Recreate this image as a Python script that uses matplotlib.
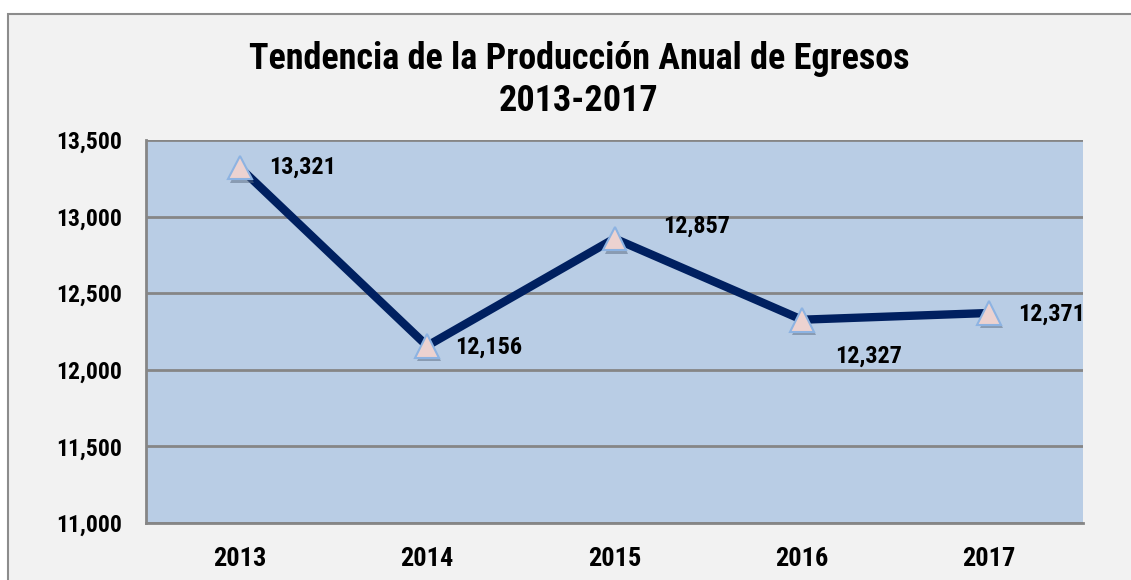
import matplotlib
matplotlib.use("Agg")
import matplotlib.pyplot as plt
import matplotlib.patheffects as pe
from matplotlib.patches import Rectangle
from matplotlib.ticker import FuncFormatter

years = ["2013", "2014", "2015", "2016", "2017"]
egresos = [13321, 12156, 12857, 12327, 12371]
label_offsets = [(21, 0), (20, -1), (35, 9), (24, -26), (21, -1)]
yticks = [11000, 11500, 12000, 12500, 13000, 13500]
title = "Tendencia de la Producción Anual de Egresos\n2013-2017"

FONT = ["Roboto Condensed", "Liberation Sans", "DejaVu Sans"]
plt.rcParams["font.family"] = FONT
plt.rcParams["font.weight"] = "bold"

fig = plt.figure(figsize=(11.31, 5.80), dpi=100, facecolor="white")

frame = Rectangle((8 / 1131, -0.1), 1.2, (580 - 14) / 580 + 0.1,
                  transform=fig.transFigure, facecolor="#f2f2f2",
                  edgecolor="#8c8c8c", linewidth=1.5, zorder=-10)
fig.patches.append(frame)

ax = fig.add_axes([146 / 1131, (580 - 523) / 580, (1083 - 146) / 1131, (523 - 140) / 580])
ax.set_facecolor("#b9cde5")

x = list(range(len(years)))
ax.plot(x, egresos, color="#002060", linewidth=6, solid_capstyle="butt", zorder=3)
ax.plot(x, egresos, linestyle="none", marker="^", markersize=17,
        markerfacecolor="#ecd2d0", markeredgecolor="#8db3e2", markeredgewidth=1.5,
        zorder=4,
        path_effects=[pe.SimplePatchShadow(offset=(1.5, -2.5), shadow_rgbFace="#5a6a80", alpha=0.5),
                      pe.Normal()])

for xi, v, off in zip(x, egresos, label_offsets):
    ax.annotate(f"{v:,}", (xi, v), xytext=off, textcoords="offset points",
                ha="left", va="center", fontsize=17.5, fontweight="bold",
                color="black", zorder=5)

ax.set_xlim(-0.5, len(years) - 0.5)
ax.set_ylim(11000, 13500)
ax.set_yticks(yticks)
ax.yaxis.set_major_formatter(FuncFormatter(lambda v, p: f"{int(v):,}"))
ax.set_xticks(x)
ax.set_xticklabels(years)
ax.tick_params(axis="y", length=0, labelsize=17, pad=17)
ax.tick_params(axis="x", length=0, labelsize=19, pad=17)
for lab in ax.get_xticklabels() + ax.get_yticklabels():
    lab.set_fontweight("bold")

ax.grid(axis="y", color="#868686", linewidth=2)
ax.set_axisbelow(True)
for s in ["top", "right"]:
    ax.spines[s].set_visible(False)
for s in ["left", "bottom"]:
    ax.spines[s].set_color("#868686")
    ax.spines[s].set_linewidth(2)

fig.text(579 / 1131, (580 - 80) / 580, title, ha="center", va="center",
         fontsize=26, fontweight="bold", linespacing=1.2)

fig.savefig("out.png", dpi=100, facecolor=fig.get_facecolor())
